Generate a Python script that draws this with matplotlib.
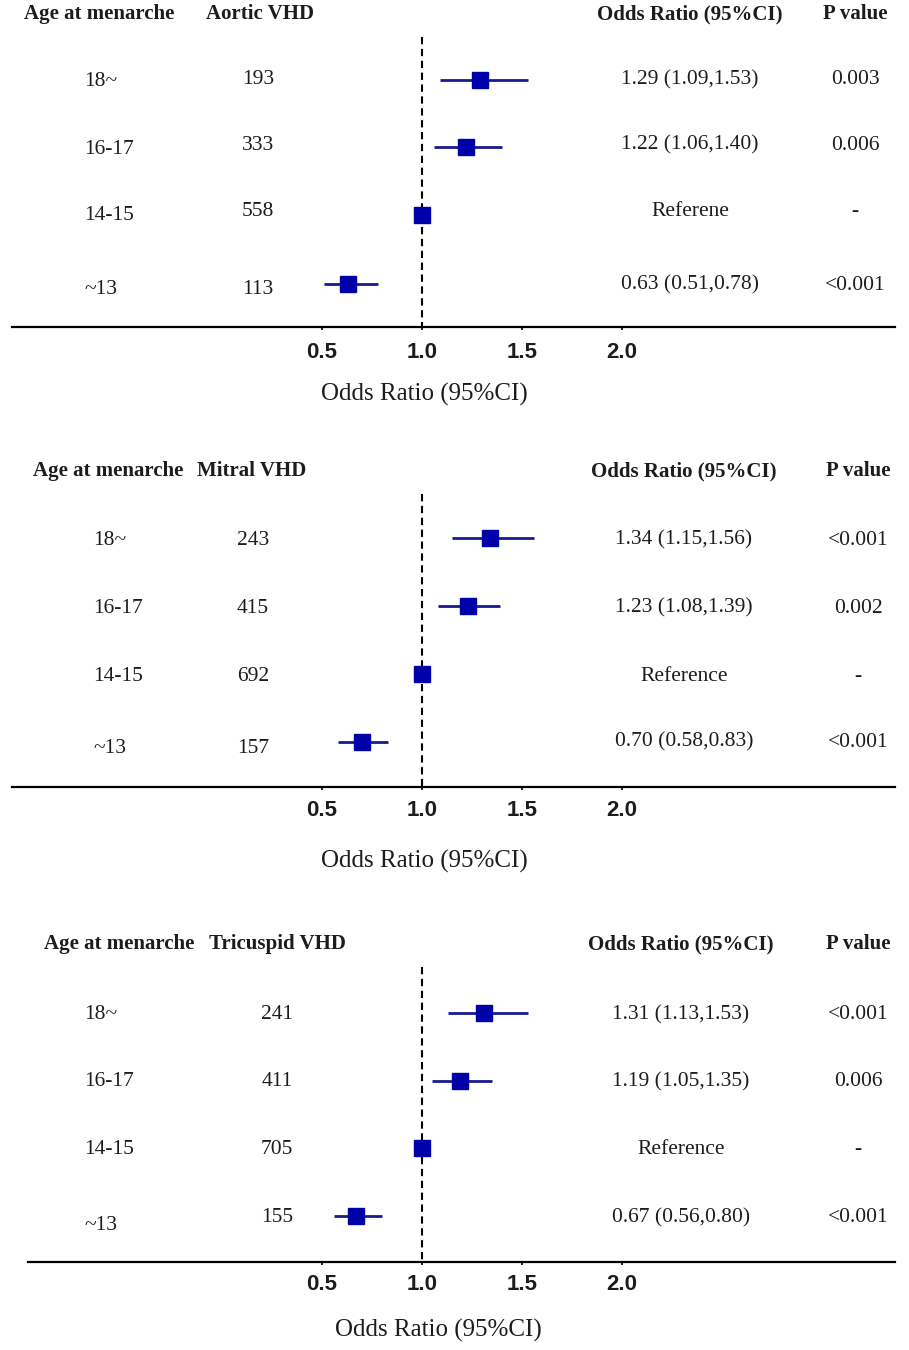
import matplotlib
matplotlib.use("Agg")
import matplotlib.pyplot as plt

# ---------------- data ----------------
groups = ["18~", "16-17", "14-15", "~13"]
outcomes = ["Aortic VHD", "Mitral VHD", "Tricuspid VHD"]

aortic_n = [193, 333, 558, 113]
aortic_or = [1.29, 1.22, 1.00, 0.63]
aortic_lo = [1.09, 1.06, None, 0.51]
aortic_hi = [1.53, 1.40, None, 0.78]
aortic_txt = ["1.29 (1.09,1.53)", "1.22 (1.06,1.40)", "Referene", "0.63 (0.51,0.78)"]
aortic_p = ["0.003", "0.006", "-", "<0.001"]

mitral_n = [243, 415, 692, 157]
mitral_or = [1.34, 1.23, 1.00, 0.70]
mitral_lo = [1.15, 1.08, None, 0.58]
mitral_hi = [1.56, 1.39, None, 0.83]
mitral_txt = ["1.34 (1.15,1.56)", "1.23 (1.08,1.39)", "Reference", "0.70 (0.58,0.83)"]
mitral_p = ["<0.001", "0.002", "-", "<0.001"]

tricuspid_n = [241, 411, 705, 155]
tricuspid_or = [1.31, 1.19, 1.00, 0.67]
tricuspid_lo = [1.13, 1.05, None, 0.56]
tricuspid_hi = [1.53, 1.35, None, 0.80]
tricuspid_txt = ["1.31 (1.13,1.53)", "1.19 (1.05,1.35)", "Reference", "0.67 (0.56,0.80)"]
tricuspid_p = ["<0.001", "0.006", "-", "<0.001"]

xticks = [0.5, 1.0, 1.5, 2.0]
xtick_labels = ["0.5", "1.0", "1.5", "2.0"]

# ---------------- layout (pixels) ----------------
W, H, DPI = 909, 1350, 100
X0_PX, PX_PER_UNIT = 422, 200.0   # OR = 1.0 at x=422 px, 200 px per unit


def px2x(px):
    return 1.0 + (px - X0_PX) / PX_PER_UNIT


layouts = [
    dict(top=0, axis=327, left=12, right=895, rows=[80, 147, 215, 284],
         lab_dy=[2, 2, 1, 5], cnt_dy=[0, -1, -3, 5], p_dy=[0, -2, -3, 1],
         header=14, dash_top=37, age_x=24, out_x=206, lab_x=84, cnt_x=258,
         or_x=690, p_x=855, xlab_x=424, xlab_y=394, tick_pad=8),
    dict(top=440, axis=787, left=12, right=895, rows=[538, 606, 674, 742],
         lab_dy=[2, 2, 2, 6], cnt_dy=[2, 2, 2, 6], p_dy=[2, 2, 2, 0],
         header=471, dash_top=494, age_x=33, out_x=197, lab_x=93, cnt_x=253,
         or_x=684, p_x=858, xlab_x=424, xlab_y=861, tick_pad=7),
    dict(top=915, axis=1262, left=28, right=895, rows=[1013, 1081, 1148, 1216],
         lab_dy=[2, 1, 2, 10], cnt_dy=[2, 1, 2, 2], p_dy=[2, 1, 2, 2],
         header=944, dash_top=967, age_x=44, out_x=209, lab_x=84, cnt_x=277,
         or_x=681, p_x=858, xlab_x=438, xlab_y=1330, tick_pad=6.5),
]

panels = [
    (aortic_n, aortic_or, aortic_lo, aortic_hi, aortic_txt, aortic_p),
    (mitral_n, mitral_or, mitral_lo, mitral_hi, mitral_txt, mitral_p),
    (tricuspid_n, tricuspid_or, tricuspid_lo, tricuspid_hi, tricuspid_txt, tricuspid_p),
]

SERIF = ["Liberation Serif", "DejaVu Serif"]
SANS = ["Liberation Sans", "DejaVu Sans"]
TXT = "#1c1c1c"
MARK = "#0000a8"
LINE = "#1a1a90"
FS_BODY = 15.5
FS_HEAD = 15

fig = plt.figure(figsize=(W / DPI, H / DPI), dpi=DPI)
fig.patch.set_facecolor("white")

for (n, orv, lo, hi, txt, pv), lay, title in zip(panels, layouts, outcomes):
    ax = fig.add_axes([lay["left"] / W, 1 - lay["axis"] / H,
                       (lay["right"] - lay["left"]) / W,
                       (lay["axis"] - lay["top"]) / H])
    ax.set_xlim(px2x(lay["left"]), px2x(lay["right"]))
    ax.set_ylim(lay["axis"], lay["top"])
    ax.patch.set_alpha(0)
    for s in ["top", "left", "right"]:
        ax.spines[s].set_visible(False)
    ax.spines["bottom"].set_linewidth(1.6)
    ax.spines["bottom"].set_color("black")
    ax.set_yticks([])
    ax.set_xticks(xticks)
    ax.set_xticklabels(xtick_labels, fontfamily=SANS, fontweight="bold",
                       fontsize=16, color=TXT)
    ax.tick_params(axis="x", direction="out", length=2.5, width=1.2,
                   pad=lay["tick_pad"])

    # reference line
    ax.vlines(1.0, lay["dash_top"], lay["axis"], colors="black",
              linestyles=(0, (3.5, 2.2)), linewidth=1.5)

    # headers
    hy = lay["header"]
    ax.text(px2x(lay["age_x"]), hy, "Age at menarche", ha="left", va="center",
            fontfamily=SERIF, fontweight="bold", fontsize=FS_HEAD, color=TXT, clip_on=False)
    ax.text(px2x(lay["out_x"]), hy, title, ha="left", va="center",
            fontfamily=SERIF, fontweight="bold", fontsize=FS_HEAD, color=TXT, clip_on=False)
    ax.text(px2x(lay["or_x"]), hy, "Odds Ratio (95%CI)", ha="center", va="center",
            fontfamily=SERIF, fontweight="bold", fontsize=FS_HEAD, color=TXT, clip_on=False)
    ax.text(px2x(lay["p_x"]), hy, "P value", ha="center", va="center",
            fontfamily=SERIF, fontweight="bold", fontsize=FS_HEAD, color=TXT, clip_on=False)

    for i, g in enumerate(groups):
        y = lay["rows"][i]
        ax.text(px2x(lay["lab_x"]), y + lay["lab_dy"][i], g, ha="left", va="center",
                fontfamily=SERIF, fontsize=FS_BODY, color=TXT, clip_on=False)
        ax.text(px2x(lay["cnt_x"]), y + lay["cnt_dy"][i], str(n[i]), ha="center",
                va="center", fontfamily=SERIF, fontsize=FS_BODY, color=TXT, clip_on=False)
        ax.text(px2x(lay["or_x"]), y + lay["p_dy"][i], txt[i], ha="center", va="center",
                fontfamily=SERIF, fontsize=FS_BODY, color=TXT, clip_on=False)
        ax.text(px2x(lay["p_x"]), y + lay["p_dy"][i], pv[i], ha="center", va="center",
                fontfamily=SERIF, fontsize=FS_BODY, color=TXT, clip_on=False)
        if lo[i] is not None:
            ax.hlines(y, lo[i], hi[i], colors=LINE, linewidth=2.0, zorder=3)
        ax.plot([orv[i]], [y], marker="s", markersize=11.5, color=MARK,
                markeredgecolor=MARK, linestyle="none", zorder=4)

    ax.text(px2x(lay["xlab_x"]), lay["xlab_y"], "Odds Ratio (95%CI)", ha="center",
            va="center", fontfamily=SERIF, fontsize=18, color=TXT, clip_on=False)

fig.savefig("out.png", dpi=DPI, facecolor="white")
